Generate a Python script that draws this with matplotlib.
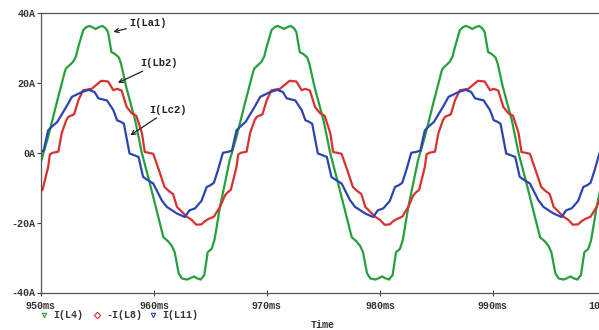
import numpy as np
import matplotlib
matplotlib.use("Agg")
import matplotlib.pyplot as plt
from matplotlib.lines import Line2D

# one 60 Hz cycle of each branch current, (time in ms, current in A)
period = 1000.0 / 60.0

t_a = [964.2, 964.45, 964.75, 965.1, 965.35, 965.84, 966.7, 967.3, 968.05, 968.8,
       968.9, 969.5, 969.75, 969.97, 970.4, 970.7, 970.95, 971.3, 971.5, 971.75,
       972.1, 972.4, 972.6, 972.9, 973.2, 973.55, 973.75, 974.2, 975.0, 975.6,
       976.3, 976.9, 977.5, 977.9, 978.25, 978.5, 978.85, 979.15, 979.6, 979.95,
       980.2, 980.45, 980.8]
i_a = [-36.0, -35.0, -28.5, -27.5, -25.0, -15.5, -2.1, 4.5, 14.2, 23.5,
       24.2, 26.0, 27.5, 30.3, 35.1, 36.0, 36.3, 35.8, 35.4, 35.9,
       36.3, 35.6, 34.5, 28.8, 28.3, 27.3, 25.5, 18.9, 9.3, -0.2,
       -8.8, -16.5, -24.2, -25.3, -26.7, -28.5, -34.5, -36.0, -36.3, -35.8,
       -35.4, -35.9, -36.3]

t_b = [964.2, 964.5, 964.8, 965.3, 965.84, 966.28, 966.5, 966.8, 967.0, 967.3,
       967.45, 967.7, 968.2, 968.5, 968.9, 969.1, 969.6, 969.97, 970.4, 971.15,
       971.6, 972.0, 972.6, 973.07, 973.4, 973.8, 974.25, 974.7, 975.1, 975.6,
       975.85, 976.2, 976.6, 977.2, 977.6, 978.0, 978.35, 978.7, 979.6, 980.0,
       980.4]
i_b = [-20.5, -19.6, -19.0, -18.3, -15.5, -12.2, -11.4, -10.6, -8.0, -4.1,
       -0.5, 0.0, 0.3, 5.6, 9.3, 10.3, 11.0, 15.0, 17.9, 18.3,
       19.5, 20.6, 20.4, 17.9, 18.3, 17.8, 13.1, 11.3, 10.6, 5.6,
       0.2, 0.0, -0.3, -5.9, -9.8, -11.0, -11.8, -15.5, -18.4, -19.2,
       -20.6]

t_c = [964.2, 964.66, 965.0, 965.3, 965.66, 966.1, 966.5, 966.9, 967.3, 967.6,
       968.1, 968.9, 969.4, 970.3, 970.9, 971.4, 971.74, 972.2, 972.5, 973.07,
       973.4, 973.7, 974.0, 974.5, 974.9, 975.3, 975.7, 976.0, 976.6, 977.35,
       977.8, 978.7, 979.4, 979.8, 980.3]
i_c = [-13.8, -9.8, -9.3, -8.6, -5.0, 0.0, 0.2, 0.6, 6.4, 7.4,
       8.8, 13.1, 16.0, 17.4, 18.0, 17.4, 15.6, 15.2, 15.0, 12.2,
       9.3, 8.9, 8.3, -0.2, -0.7, -1.2, -6.9, -7.6, -8.8, -13.6,
       -15.5, -17.4, -18.4, -16.5, -15.9]

x_ticks = [950, 960, 970, 980, 990, 1000]
y_ticks = [40, 20, 0, -20, -40]


def repeat_cycles(t, i, n_before=1, n_after=2):
    t = np.asarray(t)
    ts = np.concatenate([t + k * period for k in range(-n_before, n_after + 1)])
    vs = np.tile(np.asarray(i), n_before + n_after + 1)
    return ts, vs


plt.rcParams['font.family'] = ['Liberation Mono', 'DejaVu Sans Mono']
fs = 7.2

fig = plt.figure(figsize=(5.99, 3.30), dpi=100)
ax = fig.add_axes([41 / 599, 37.5 / 330, 565 / 599, 279.5 / 330])

ax.plot(*repeat_cycles(t_a, i_a), color='#26a03c', lw=1.6)
ax.plot(*repeat_cycles(t_b, i_b), color='#d93030', lw=1.6)
ax.plot(*repeat_cycles(t_c, i_c), color='#2c44b2', lw=1.6)

ax.set_xlim(950, 1000)
ax.set_ylim(-40, 40)
ax.set_xticks(x_ticks)
ax.set_xticklabels([f'{v}ms' for v in x_ticks], fontsize=fs, fontweight='bold')
ax.set_yticks(y_ticks)
ax.set_yticklabels([f'{v}A' for v in y_ticks], fontsize=fs, fontweight='bold')
ax.tick_params(axis='y', direction='out', length=3, width=0.8, pad=1, colors='#444444')
ax.tick_params(axis='x', direction='inout', length=5, width=0.8, pad=3.5, colors='#444444')
for lbl in ax.get_xticklabels() + ax.get_yticklabels():
    lbl.set_color('#333333')
for s in ax.spines.values():
    s.set_color('#555555')
    s.set_linewidth(0.9)

# trace labels with arrows
arrow = dict(arrowstyle='->', color='#222222', lw=0.9, shrinkA=0, shrinkB=0)
ax.annotate('I(La1)', xy=(956.4, 34.6), xytext=(957.8, 37.0), fontsize=fs + 0.3,
            fontweight='bold', color='#222222', va='center', arrowprops=arrow)
ax.annotate('I(Lb2)', xy=(956.8, 20.0), xytext=(958.8, 25.6), fontsize=fs + 0.3,
            fontweight='bold', color='#222222', va='center', arrowprops=arrow)
ax.annotate('I(Lc2)', xy=(957.9, 5.0), xytext=(959.6, 12.2), fontsize=fs + 0.3,
            fontweight='bold', color='#222222', va='center', arrowprops=arrow)

# legend row under the axis
ly = 1 - 315 / 330
entries = [(44, 'v', '#26a03c', 'I(L4)'),
           (97, 'D', '#d93030', '-I(L8)'),
           (153, 'v', '#2c44b2', 'I(L11)')]
for px, mk, col, txt in entries:
    fig.add_artist(Line2D([px / 599], [ly], marker=mk, markersize=3.2,
                          markerfacecolor='none', markeredgecolor=col,
                          markeredgewidth=0.8, transform=fig.transFigure))
    fig.text((px + 9) / 599, ly, txt, fontsize=fs, fontweight='bold',
             color='#333333', va='center', ha='left')

fig.text(323 / 599, 1 - 325.5 / 330, 'Time', fontsize=fs, fontweight='bold',
         color='#333333', ha='center', va='center')

fig.savefig('out.png', dpi=100)
